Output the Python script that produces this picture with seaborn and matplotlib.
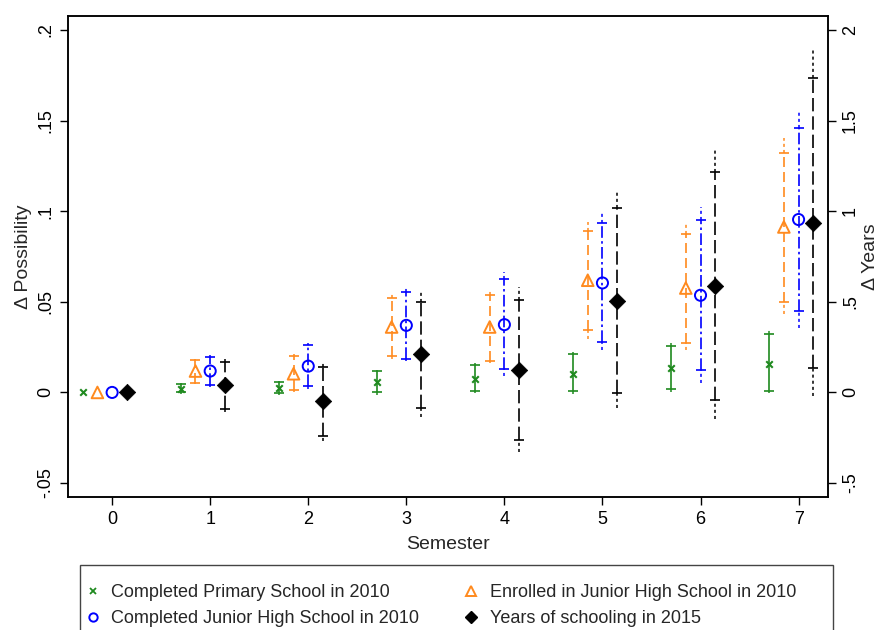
import numpy as np
import pandas as pd
import seaborn as sns
import matplotlib.pyplot as plt
from matplotlib.lines import Line2D
from matplotlib.patches import Rectangle

semestres = np.arange(8)

# Completed Primary School in 2010 (left axis)
prim_est = [0, 0.002, 0.0026, 0.0057, 0.0076, 0.0099, 0.0136, 0.0158]
prim_lo90 = [0, 0.0, -0.0005, 0.0, 0.0008, 0.0006, 0.002, 0.001]
prim_hi90 = [0, 0.0045, 0.0055, 0.0116, 0.0149, 0.021, 0.0254, 0.032]
prim_lo95 = [0, -0.0008, -0.0012, -0.0012, -0.0005, -0.0008, 0.0005, -0.0005]
prim_hi95 = [0, 0.005, 0.0062, 0.0126, 0.0162, 0.0225, 0.0272, 0.0345]

# Enrolled in Junior High School in 2010 (left axis)
enr_est = [0, 0.0118, 0.0103, 0.0361, 0.0361, 0.0619, 0.0576, 0.0913]
enr_lo90 = [0, 0.0052, 0.0015, 0.0199, 0.0171, 0.0343, 0.0272, 0.0499]
enr_hi90 = [0, 0.0177, 0.0199, 0.0521, 0.054, 0.089, 0.0873, 0.1322]
enr_lo95 = [0, 0.0045, 0.0, 0.0185, 0.016, 0.0297, 0.0232, 0.0431]
enr_hi95 = [0, 0.0185, 0.021, 0.0549, 0.0573, 0.094, 0.0928, 0.1405]

# Completed Junior High School in 2010 (left axis)
jhs_est = [0, 0.0118, 0.0145, 0.037, 0.0374, 0.0604, 0.0536, 0.0954]
jhs_lo90 = [0, 0.0039, 0.0033, 0.0182, 0.0127, 0.0276, 0.0122, 0.0449]
jhs_hi90 = [0, 0.0195, 0.026, 0.0554, 0.0624, 0.0936, 0.095, 0.146]
jhs_lo95 = [0, 0.003, 0.002, 0.0171, 0.0088, 0.0236, 0.0052, 0.0357]
jhs_hi95 = [0, 0.0205, 0.0272, 0.0586, 0.0665, 0.0996, 0.1024, 0.1554]

# Years of schooling in 2015 (right axis, years)
anios_est = [0, 0.039, -0.048, 0.21, 0.125, 0.504, 0.586, 0.935]
anios_lo90 = [0, -0.09, -0.238, -0.085, -0.261, -0.002, -0.040, 0.134]
anios_hi90 = [0, 0.168, 0.140, 0.499, 0.512, 1.015, 1.217, 1.733]
anios_lo95 = [0, -0.109, -0.269, -0.136, -0.33, -0.085, -0.146, -0.022]
anios_hi95 = [0, 0.186, 0.168, 0.554, 0.582, 1.116, 1.337, 1.893]

etiquetas = ['Completed Primary School in 2010', 'Enrolled in Junior High School in 2010',
             'Completed Junior High School in 2010', 'Years of schooling in 2015']

sns.set_style('ticks')
plt.rcParams['font.family'] = ['Liberation Sans', 'DejaVu Sans']

fig = plt.figure(figsize=(8.82, 6.3), dpi=100)
ax = fig.add_axes([68 / 882, 1 - 497 / 630, 760 / 882, 481 / 630])
ax2 = ax.twinx()

verde, naranja, azul = '#1f8a1f', '#ff8a1e', '#0000ff'

series = [
    (ax, -0.3, prim_est, prim_lo90, prim_hi90, prim_lo95, prim_hi95, verde, 'x', 22, '-', 'linea'),
    (ax, -0.15, enr_est, enr_lo90, enr_hi90, enr_lo95, enr_hi95, naranja, '^', 70, (0, (6, 3)), 'none'),
    (ax, 0.0, jhs_est, jhs_lo90, jhs_hi90, jhs_lo95, jhs_hi95, azul, 'o', 64, (0, (7, 2, 1.5, 2)), 'none'),
    (ax2, 0.15, anios_est, anios_lo90, anios_hi90, anios_lo95, anios_hi95, 'black', 'D', 70, (0, (8, 3)), 'lleno'),
]

for eje, off, est, lo90, hi90, lo95, hi95, color, marca, tam, estilo, relleno in series:
    df = pd.DataFrame({'x': semestres + off, 'est': est, 'lo90': lo90, 'hi90': hi90,
                       'lo95': lo95, 'hi95': hi95})
    ci = df[df['x'] > 0.5]
    # extension of the outer interval (no caps)
    eje.vlines(ci['x'], ci['hi90'], ci['hi95'], colors=color, linewidth=1.1, linestyles=(0, (2, 2)))
    eje.vlines(ci['x'], ci['lo95'], ci['lo90'], colors=color, linewidth=1.1, linestyles=(0, (2, 2)))
    eb = eje.errorbar(ci['x'], ci['est'], yerr=[ci['est'] - ci['lo90'], ci['hi90'] - ci['est']],
                      fmt='none', ecolor=color, elinewidth=1.2, capsize=3.8, capthick=1.2)
    eb[2][0].set_linestyle(estilo)
    if relleno == 'none':
        sns.scatterplot(data=df, x='x', y='est', ax=eje, marker=marca, s=tam, facecolors='none',
                        edgecolor=color, color=color, linewidth=1.4, zorder=5)
    elif relleno == 'linea':
        sns.scatterplot(data=df, x='x', y='est', ax=eje, marker=marca, s=tam, color=color,
                        linewidth=1.5, zorder=5)
    else:
        sns.scatterplot(data=df, x='x', y='est', ax=eje, marker=marca, s=tam, color=color,
                        edgecolor=color, linewidth=0.5, zorder=5)

ax.set_xlim(-0.45, 7.3)
ax.set_ylim(-0.0577, 0.2077)
ax2.set_ylim(-0.577, 2.077)

ax.set_xticks(semestres)
ax.set_yticks([-0.05, 0, 0.05, 0.1, 0.15, 0.2])
ax.set_yticklabels(['-.05', '0', '.05', '.1', '.15', '.2'], rotation=90, va='center')
ax2.set_yticks([-0.5, 0, 0.5, 1, 1.5, 2])
ax2.set_yticklabels(['-.5', '0', '.5', '1', '1.5', '2'], rotation=90, va='center')

for eje in (ax, ax2):
    eje.tick_params(direction='out', length=6, width=1, colors='black', labelsize=13, pad=4)
    for s in eje.spines.values():
        s.set_visible(True)
        s.set_color('black')
        s.set_linewidth(1.1)
    eje.grid(False)

ax.set_xlabel('Semester', fontsize=14, labelpad=6)
ax.set_ylabel('Δ Possibility', fontsize=14, labelpad=4)
ax2.set_ylabel('Δ Years', fontsize=14, rotation=90, labelpad=2)

# legend with frame drawn by hand; column-wise order gives the row layout
manijas = [
    Line2D([], [], linestyle='none', marker='x', color=verde, markersize=4, markeredgewidth=1.3),
    Line2D([], [], linestyle='none', marker='o', color=azul, markerfacecolor='none', markersize=6, markeredgewidth=1.4),
    Line2D([], [], linestyle='none', marker='^', color=naranja, markerfacecolor='none', markersize=7, markeredgewidth=1.4),
    Line2D([], [], linestyle='none', marker='D', color='black', markersize=6),
]
orden = [etiquetas[0], etiquetas[2], etiquetas[1], etiquetas[3]]
leg = fig.legend(manijas, orden, ncol=2, loc='upper left',
                 bbox_to_anchor=(75 / 882, 1 - 575 / 630), frameon=False, fontsize=13,
                 handlelength=1.0, handletextpad=0.5, columnspacing=2.4, labelspacing=0.52,
                 borderpad=0)
fig.patches.append(Rectangle((80 / 882, -0.02), 753 / 882, 1 - 565 / 630 + 0.02,
                             transform=fig.transFigure, fill=False, edgecolor='#444444', linewidth=1.0))

fig.savefig('out.png', dpi=100)
